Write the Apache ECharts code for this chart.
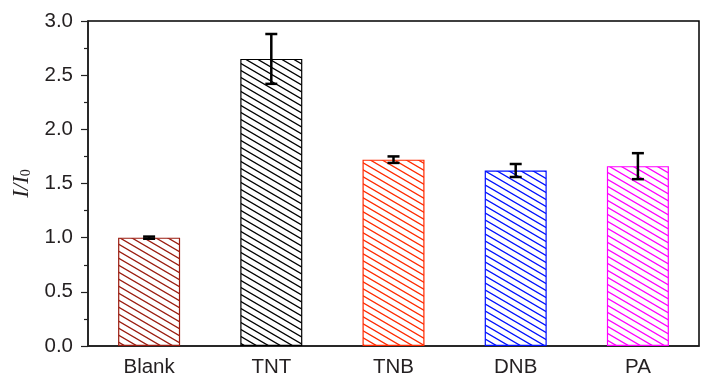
<!DOCTYPE html>
<html><head><meta charset="utf-8">
<script src="https://cdn.jsdelivr.net/npm/echarts@6/dist/echarts.min.js"></script>
<style>html,body{margin:0;padding:0;background:#fff}#c{width:726px;height:390px}</style>
</head><body><div id="c"></div>
<script>
const categories = ['Blank', 'TNT', 'TNB', 'DNB', 'PA'];
const values = [1.00, 2.65, 1.72, 1.62, 1.66];
const errors = [0.01, 0.23, 0.03, 0.06, 0.12];
const yTicks = [0, 0.5, 1.0, 1.5, 2.0, 2.5, 3.0];

const hatchColors = ['#9b1c10', '#000000', '#ff2a00', '#0010ff', '#ff00ff'];

function makeHatch(color) {
  const W = 12, H = 7;
  const cv = document.createElement('canvas');
  cv.width = W; cv.height = H;
  const ctx = cv.getContext('2d');
  ctx.strokeStyle = color;
  ctx.lineWidth = 1.3;
  ctx.beginPath();
  for (let k = -1; k <= 1; k++) {
    ctx.moveTo(-W, -H + k * H);
    ctx.lineTo(2 * W, 2 * H + k * H);
  }
  ctx.stroke();
  return { image: cv, repeat: 'repeat' };
}

const chart = echarts.init(document.getElementById('c'), null, { renderer: 'canvas' });
const font = 'Liberation Sans, Arial, sans-serif';

chart.setOption({
  animation: false,
  grid: { left: 88, right: 27, top: 21, bottom: 44, show: true, borderColor: '#000', borderWidth: 1.5, backgroundColor: 'transparent' },
  xAxis: {
    type: 'category',
    data: categories,
    axisLine: { lineStyle: { color: '#222', width: 1.5 } },
    axisTick: { alignWithLabel: true, length: 6, lineStyle: { color: '#222', width: 1.2 } },
    axisLabel: { color: '#231f20', fontFamily: font, fontSize: 20.5, margin: 11 },
    splitLine: { show: false }
  },
  yAxis: {
    type: 'value',
    min: yTicks[0], max: yTicks[yTicks.length - 1], interval: 0.5,
    name: '{a|I/I}{b|0}',
    nameLocation: 'middle',
    nameGap: 54,
    nameRotate: 90,
    nameTextStyle: {
      rich: {
        a: { fontFamily: 'Liberation Serif, Times New Roman, serif', fontStyle: 'italic', fontSize: 23, color: '#231f20' },
        b: { fontFamily: 'Liberation Serif, Times New Roman, serif', fontSize: 14, color: '#231f20', verticalAlign: 'bottom', padding: [9, 0, 0, 0] }
      }
    },
    axisLine: { show: true, lineStyle: { color: '#222', width: 1.5 } },
    axisTick: { show: true, length: 7, lineStyle: { color: '#222', width: 1.2 } },
    minorTick: { show: true, splitNumber: 2, length: 4, lineStyle: { color: '#222', width: 1.2 } },
    axisLabel: { color: '#231f20', fontFamily: font, fontSize: 20.5, margin: 15, formatter: v => v.toFixed(1) },
    splitLine: { show: false }
  },
  series: [
    {
      type: 'bar',
      barWidth: 62,
      data: values.map((v, i) => ({
        value: v,
        itemStyle: { color: makeHatch(hatchColors[i]), borderColor: hatchColors[i], borderWidth: 1.2 }
      }))
    },
    {
      type: 'custom',
      z: 10,
      data: values.map((v, i) => [i, v - errors[i], v + errors[i]]),
      renderItem: function (params, api) {
        const x = api.value(0);
        const lo = api.coord([x, api.value(1)]);
        const hi = api.coord([x, api.value(2)]);
        const hw = 6;
        const style = { stroke: '#000', lineWidth: 2.5 };
        return {
          type: 'group',
          children: [
            { type: 'line', shape: { x1: lo[0], y1: lo[1], x2: hi[0], y2: hi[1] }, style },
            { type: 'line', shape: { x1: hi[0] - hw, y1: hi[1], x2: hi[0] + hw, y2: hi[1] }, style },
            { type: 'line', shape: { x1: lo[0] - hw, y1: lo[1], x2: lo[0] + hw, y2: lo[1] }, style }
          ]
        };
      }
    }
  ]
});
</script></body></html>
